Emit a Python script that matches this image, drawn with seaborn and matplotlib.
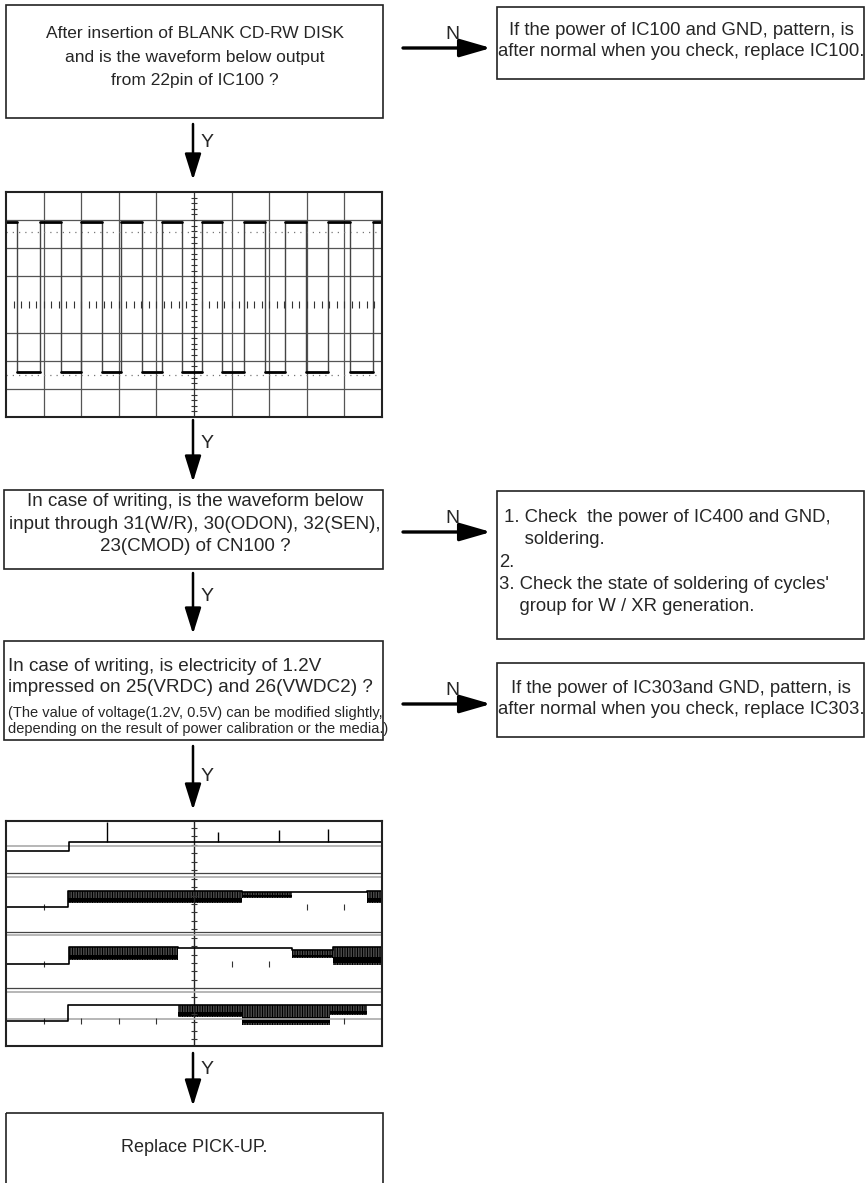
import matplotlib
matplotlib.use("Agg")
import matplotlib.pyplot as plt
import numpy as np
import pandas as pd
import seaborn as sns
from matplotlib.patches import Rectangle

W, H = 867, 1183

# ---- scope 1: square wave from 22pin of IC100 (x, y in divisions) ----
wave1_fall = [0.30, 1.46, 2.54, 3.63, 4.69, 5.75, 6.89, 7.98, 9.14]
wave1_rise = [0.90, 2.00, 3.07, 4.16, 5.22, 6.32, 7.42, 8.57, 9.76]
wave1_high = 2.95
wave1_low = -2.4
wave1_dotted = [2.57, -2.5]

# ---- scope 2: four channels ----
ch_low = [2.93, 0.94, -1.08, -3.11]
ch_step = [1.68, 1.65, 1.68, 1.65]
ch_seg_start = [[1.68], [1.65, 6.28, 7.60, 9.60], [1.68, 4.57, 7.60, 8.70],
                [1.65, 4.57, 6.28, 8.62, 9.60]]
ch_seg_end = [[10.0], [6.28, 7.60, 9.60, 10.0], [4.57, 7.60, 8.70, 10.0],
              [4.57, 6.28, 8.62, 9.60, 10.0]]
ch_seg_top = [[3.25], [1.51, 1.48, 1.48, 1.51], [-0.48, -0.52, -0.59, -0.48],
              [-2.54, -2.54, -2.54, -2.54, -2.54]]
ch_seg_bottom = [[3.25], [1.08, 1.26, 1.48, 1.08], [-0.94, -0.52, -0.87, -1.12],
                 [-2.54, -2.97, -3.25, -2.90, -2.54]]
ch1_spike_x = [2.69, 5.64, 7.26, 8.57]
ch1_spike_y = [3.96, 3.60, 3.68, 3.70]
ch_ticks_x = [[], [1, 8, 9], [1, 6, 7], [1, 2, 3, 4, 9]]
scope2_dark_lines = [2.15, 0.05, -1.94]
scope2_gray_lines = [3.11, 2.0, -0.05, -2.08, -3.04]

sns.set_theme(style="white")
plt.rcParams["font.family"] = ["Liberation Sans", "DejaVu Sans"]
plt.rcParams["hatch.linewidth"] = 1.0

fig = plt.figure(figsize=(W / 100, H / 100), dpi=100)
ax = fig.add_axes([0, 0, 1, 1])
ax.set_xlim(0, W)
ax.set_ylim(H, 0)
ax.axis("off")


def box(x0, y0, x1, y1):
    ax.add_patch(Rectangle((x0, y0), x1 - x0, y1 - y0, fill=False,
                           edgecolor="#222222", lw=1.2))


def down_arrow(x, y0, y1, ylab):
    ax.annotate("", xy=(x, y1), xytext=(x, y0),
                arrowprops=dict(arrowstyle="-|>,head_length=1.6,head_width=0.5",
                                lw=1.8, color="black", shrinkA=0, shrinkB=0,
                                mutation_scale=10))
    ax.text(x + 8, ylab, "Y", fontsize=14, ha="left", va="center")


def right_arrow(y, x0=403, x1=491):
    ax.annotate("", xy=(x1, y), xytext=(x0, y),
                arrowprops=dict(arrowstyle="-|>,head_length=1.9,head_width=0.55",
                                lw=2.4, color="black", shrinkA=0, shrinkB=0,
                                mutation_scale=10))
    ax.text(452, y - 14, "N", fontsize=14, ha="center", va="center")


def scope_axes(x0, y0, x1, y1):
    sax = fig.add_axes([x0 / W, 1 - y1 / H, (x1 - x0) / W, (y1 - y0) / H])
    sax.set_xlim(0, 10)
    sax.set_ylim(-4, 4)
    sax.set_xticks([])
    sax.set_yticks([])
    for s in sax.spines.values():
        s.set_color("#222222")
        s.set_linewidth(1.5)
    return sax


# ---------------- flowchart boxes and text ----------------
box(6, 5, 383, 118)
ax.text(195, 57, "After insertion of BLANK CD-RW DISK\nand is the waveform below output\nfrom 22pin of IC100 ?",
        fontsize=12.5, ha="center", va="center", linespacing=1.7)
box(497, 7, 864, 79)
ax.text(681, 41, "If the power of IC100 and GND, pattern, is\nafter normal when you check, replace IC100.",
        fontsize=13.3, ha="center", va="center", linespacing=1.25)
right_arrow(48)
down_arrow(193, 124, 180, 142)

box(4, 490, 383, 569)
ax.text(195, 524, "In case of writing, is the waveform below\ninput through 31(W/R), 30(ODON), 32(SEN),\n23(CMOD) of CN100 ?",
        fontsize=13.5, ha="center", va="center", linespacing=1.4)
box(497, 491, 864, 639)
ax.text(499, 562, " 1. Check  the power of IC400 and GND,\n     soldering.\n2.\n3. Check the state of soldering of cycles'\n    group for W / XR generation.",
        fontsize=13.3, ha="left", va="center", linespacing=1.4)
right_arrow(532)
down_arrow(193, 573, 634, 596)
down_arrow(193, 420, 482, 443)

box(4, 641, 383, 740)
ax.text(8, 677, "In case of writing, is electricity of 1.2V\nimpressed on 25(VRDC) and 26(VWDC2) ?",
        fontsize=13.6, ha="left", va="center", linespacing=1.25)
ax.text(8, 721, "(The value of voltage(1.2V, 0.5V) can be modified slightly,\ndepending on the result of power calibration or the media.)",
        fontsize=10.5, ha="left", va="center", linespacing=1.2)
box(497, 663, 864, 737)
ax.text(681, 699, "If the power of IC303and GND, pattern, is\nafter normal when you check, replace IC303.",
        fontsize=13.3, ha="center", va="center", linespacing=1.25)
right_arrow(704)
down_arrow(193, 746, 810, 776)

down_arrow(193, 1053, 1106, 1070)
box(6, 1113, 383, 1190)
ax.text(194, 1148, "Replace PICK-UP.", fontsize=13, ha="center", va="center")

# ---------------- scope 1 ----------------
s1 = scope_axes(6, 192, 382, 417)
for gx in range(1, 10):
    if gx != 5:
        s1.axvline(gx, color="#555555", lw=0.9)
for gy in (-3, -2, -1, 1, 2, 3):
    s1.axhline(gy, color="#555555", lw=0.9)
s1.axvline(5, color="#333333", lw=0.9)
s1.vlines(np.arange(0.2, 10, 0.2), -0.12, 0.12, color="#333333", lw=0.8)
s1.hlines(np.arange(-3.8, 4, 0.2), 4.92, 5.08, color="#333333", lw=0.8)
for dy in wave1_dotted:
    s1.axhline(dy, color="#777777", lw=0.9, ls=(0, (1, 4)))

events = sorted([(f, wave1_high, wave1_low) for f in wave1_fall] +
                [(r, wave1_low, wave1_high) for r in wave1_rise])
flat_rows, edge_rows = [], []
x_prev, level = 0.0, wave1_high
for i, (t, a, b) in enumerate(events):
    flat_rows += [dict(x=x_prev, y=level, seg=i), dict(x=t, y=level, seg=i)]
    edge_rows += [dict(x=t, y=a, seg=i), dict(x=t, y=b, seg=i)]
    x_prev, level = t, b
flat_rows += [dict(x=x_prev, y=level, seg=len(events)), dict(x=10, y=level, seg=len(events))]
sns.lineplot(data=pd.DataFrame(edge_rows), x="x", y="y", units="seg", estimator=None,
             sort=False, color="#444444", lw=1.0, ax=s1)
sns.lineplot(data=pd.DataFrame(flat_rows), x="x", y="y", units="seg", estimator=None,
             sort=False, color="black", lw=2.0, ax=s1)
s1.set_xlabel("")
s1.set_ylabel("")

# ---------------- scope 2 ----------------
s2 = scope_axes(6, 821, 382, 1046)
s2.axvline(5, color="#222222", lw=1.0)
s2.hlines(np.arange(-3.75, 4, 0.3), 4.92, 5.08, color="#333333", lw=0.8)
for gy in scope2_dark_lines:
    s2.axhline(gy, color="#444444", lw=0.9)
for gy in scope2_gray_lines:
    s2.axhline(gy, color="#aaaaaa", lw=1.2)

for c in range(4):
    low, step = ch_low[c], ch_step[c]
    s2.vlines(ch_ticks_x[c], low - 0.12, low + 0.12, color="#333333", lw=0.8)
    rows = [dict(x=0, y=low), dict(x=step, y=low)]
    for x0, x1, top, bot in zip(ch_seg_start[c], ch_seg_end[c], ch_seg_top[c], ch_seg_bottom[c]):
        rows += [dict(x=x0, y=top), dict(x=x1, y=top)]
        if bot != top:
            s2.fill_between([x0, x1], [bot, bot], [top, top], facecolor="none",
                            edgecolor="black", hatch="||||||||||", lw=0)
            core = bot + (top - bot) * 0.3
            s2.fill_between([x0, x1], [bot + (top - bot) * 0.1] * 2, [core + (top - bot) * 0.12] * 2,
                            color="black", lw=0)
    sns.lineplot(data=pd.DataFrame(rows), x="x", y="y", estimator=None, sort=False,
                 color="black", lw=1.2, ax=s2)

s2.vlines(ch1_spike_x, ch_seg_top[0][0], ch1_spike_y, color="black", lw=1.0)
s2.set_xlabel("")
s2.set_ylabel("")

fig.savefig("out.png", dpi=100)
